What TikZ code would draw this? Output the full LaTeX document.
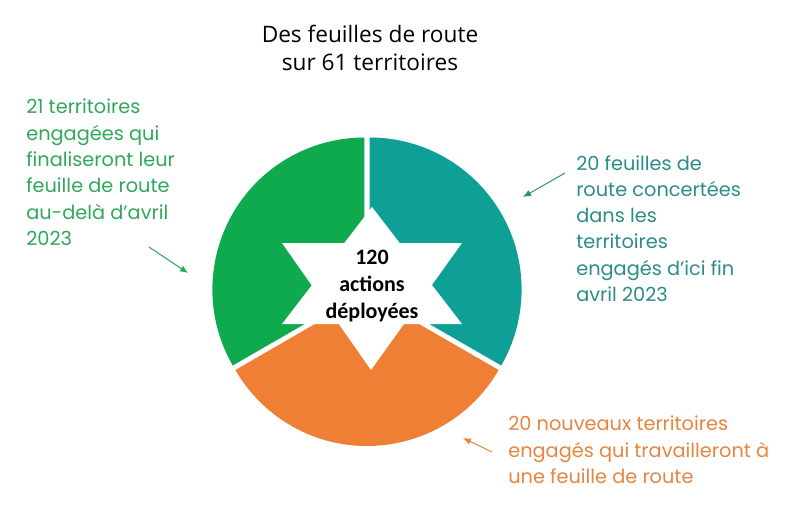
\documentclass[tikz,border=0pt]{standalone}
\usepackage{fontspec}
\setmainfont{Liberation Sans}
\newfontfamily\titlefont{Open Sans}
\newfontfamily\starfont{Carlito}
\newfontfamily\handfont{Poppins}
\usetikzlibrary{arrows.meta}
\definecolor{piegreen}{HTML}{0FAA4E}
\definecolor{pieteal}{HTML}{0E9F97}
\definecolor{pieorange}{HTML}{EE7F34}
\definecolor{labgreen}{HTML}{30A85C}
\definecolor{labteal}{HTML}{2B8D89}
\definecolor{laborange}{HTML}{E5853F}
\begin{document}
\begin{tikzpicture}[x=0.75pt,y=0.75pt,
    handlab/.style={anchor=north west, inner sep=0pt, align=left, font=\handfont\fontsize{14.5}{19.7}\selectfont},
    pointer/.style={line width=0.75pt, -{Latex[length=6pt,width=5pt]}}]
                    \useasboundingbox (0,0) rectangle (790,526);%
                    
                    % Drawing the three sectors, each one pushed out a little
                    \foreach \a/\b/\col in {90/-30/pieteal,-30/-150/pieorange,210/90/piegreen}
                    \fill [\col, shift={(367,235)}] ({(\a+\b)/2}:3) -- +(\a:152) arc [start angle=\a, end angle=\b, radius=152] -- cycle;%
                    
                    % Drawing star as two triangles
                    \fill [white] (372,319) -- (282,202) -- (462,202) -- cycle;%
                    \fill [white] (371,156) -- (282,283) -- (462,283) -- cycle;%
                    \draw (372,240) node (actions) [align=center, font=\starfont\bfseries\fontsize{16.5}{20}\selectfont] {120\\actions\\déployées};%
                    
                    % Title
                    \draw (370,506) node (title) [anchor=north, align=center, font=\titlefont\fontsize{17}{21}\selectfont] {Des feuilles de route\\sur 61 territoires};%
                    
                    % Label of sector green
                    \draw (26,427) node (greenlab) [handlab, text=labgreen] {21 territoires\\engagées qui\\finaliseront leur\\feuille de route\\au-delà d’avril\\2023};%
                    \coordinate (greentail) at (149,279);%
                    \coordinate (greenhead) at (188,253);%
                    \draw [pointer, labgreen] (greentail) -- (greenhead);%
                    
                    % Label of sector teal
                    \draw (576,371) node (teallab) [handlab, text=labteal] {20 feuilles de\\route concertées\\dans les\\territoires\\engagés d’ici fin\\avril 2023};%
                    \coordinate (tealtail) at (565,353);%
                    \coordinate (tealhead) at (523,329);%
                    \draw [pointer, labteal] (tealtail) -- (tealhead);%
                    
                    % Label of sector orange
                    \draw (508,110) node (orangelab) [handlab, text=laborange] {20 nouveaux territoires\\engagés qui travailleront à\\une feuille de route};%
                    \coordinate (orangetail) at (492,74);%
                    \coordinate (orangehead) at (463,88);%
                    \draw [pointer, laborange] (orangetail) -- (orangehead);%
\end{tikzpicture}
\end{document}
